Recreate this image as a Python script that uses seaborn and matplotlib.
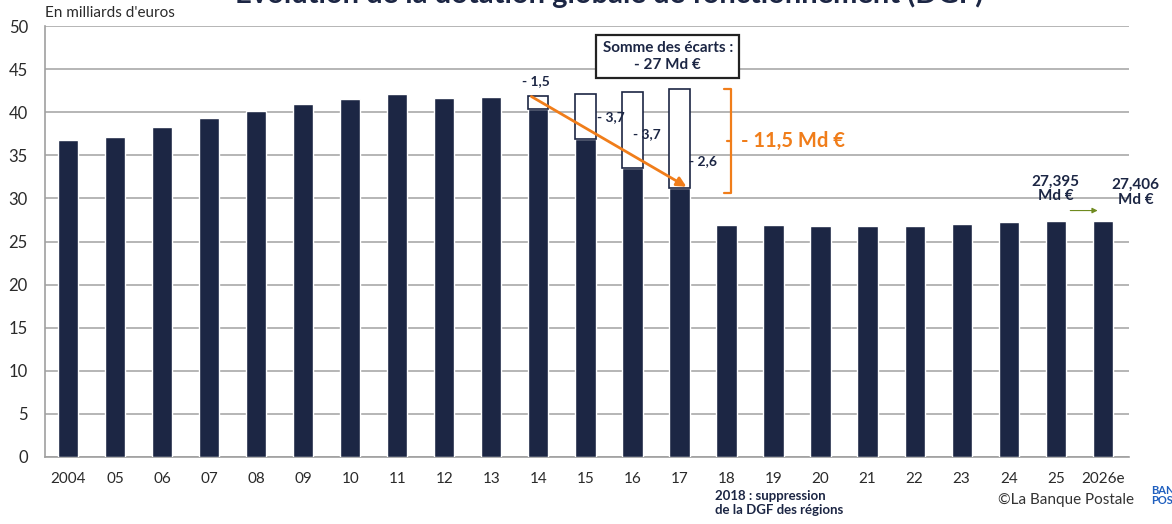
import numpy as np
import pandas as pd
import matplotlib.pyplot as plt
import seaborn as sns

# --- data (Md €) ---
years = ["2004", "05", "06", "07", "08", "09", "10", "11", "12", "13", "14", "15",
         "16", "17", "18", "19", "20", "21", "22", "23", "24", "25", "2026e"]
dgf = [36.8, 37.1, 38.3, 39.3, 40.1, 41.0, 41.5, 42.1, 41.7, 41.8, 40.4, 36.9,
       33.5, 31.2, 26.9, 26.95, 26.85, 26.8, 26.85, 27.05, 27.25, 27.395, 27.406]
cut_years = ["14", "15", "16", "17"]
cut_gaps = [1.5, 3.7, 3.7, 2.6]
cut_labels = ["- 1,5", "- 3,7", "- 3,7", "- 2,6"]

NAVY = "#1c2644"
ORANGE = "#f07d1a"
GRID = "#b5b5b5"

sns.set_theme(style="white")
plt.rcParams["font.family"] = ["Lato", "DejaVu Sans"]

df = pd.DataFrame({"year": years, "dgf": dgf})

fig = plt.figure(figsize=(11.72, 5.24), dpi=100)
ax = fig.add_axes([0.038, 0.128, 0.925, 0.822])

sns.barplot(data=df, x="year", y="dgf", color=NAVY, saturation=1, width=0.43, ax=ax, zorder=3)

# white boxes = cumulated cuts on top of the 2014-2017 bars
pos = [years.index(y) for y in cut_years]
bottoms = [dgf[i] for i in pos]
cum = np.cumsum(cut_gaps)
ax.bar(pos, cum, bottom=bottoms, width=0.43, color="white", edgecolor=NAVY,
       linewidth=1.2, zorder=3)

# labels of each cut
lab_xy = [(pos[0] - 0.05, 43.6), (pos[1] + 0.55, 39.5), (pos[2] + 0.3, 37.5), (pos[3] + 0.5, 34.4)]
for (x, y), t in zip(lab_xy, cut_labels):
    ax.text(x, y, t, ha="center", va="center", fontsize=10, fontweight="bold", color=NAVY, zorder=5)

# orange arrow across the cuts
ax.annotate("", xy=(pos[3] + 0.2, 31.2), xytext=(pos[0] - 0.2, 42.0),
            arrowprops=dict(arrowstyle="-|>", color=ORANGE, lw=2, mutation_scale=14), zorder=6)

# orange bracket
bx = pos[3] + 1.1
top, bot = bottoms[3] + cum[3], bottoms[3] - 0.6
ax.plot([bx - 0.15, bx, bx, bx - 0.15], [top, top, bot, bot], color=ORANGE, lw=1.6, zorder=5)
ax.plot([bx, bx - 0.1], [(top + bot) / 2, (top + bot) / 2], color=ORANGE, lw=1.6, zorder=5)
ax.text(bx + 0.2, (top + bot) / 2, "- 11,5 Md €", ha="left", va="center", fontsize=14.5,
        fontweight="bold", color=ORANGE, zorder=5)

# summary box
ax.text(12.75, 46.5, "Somme des écarts :\n- 27 Md €", ha="center", va="center", fontsize=11,
        fontweight="bold", color=NAVY, linespacing=1.25, zorder=6,
        bbox=dict(boxstyle="square,pad=0.4", fc="white", ec="#222222", lw=1.6))

# last two values
ax.text(21, 31.1, "27,395\nMd €", ha="center", va="center", fontsize=11, fontweight="bold",
        color=NAVY, linespacing=1.05)
ax.text(22.7, 30.7, "27,406\nMd €", ha="center", va="center", fontsize=11, fontweight="bold",
        color=NAVY, linespacing=1.05, clip_on=False)
ax.annotate("", xy=(21.95, 28.6), xytext=(21.25, 28.6),
            arrowprops=dict(arrowstyle="-|>", color="#6f8a1f", lw=0.8, mutation_scale=8))

# axes styling
ax.set_ylim(0, 50)
ax.set_xlim(-0.5, 22.55)
ax.set_yticks(range(0, 51, 5))
ax.yaxis.grid(True, color=GRID, lw=1.4)
ax.set_axisbelow(True)
ax.set_xlabel("")
ax.set_ylabel("")
for s in ["top", "right"]:
    ax.spines[s].set_visible(False)
for s in ["left", "bottom"]:
    ax.spines[s].set_color("#a0a0a0")
    ax.spines[s].set_linewidth(1.2)
ax.tick_params(axis="y", labelsize=12, colors="#2a2a2a", pad=12, length=0)
ax.tick_params(axis="x", labelsize=11, colors="#2a2a2a", pad=11, length=0)

# texts around the chart
fig.text(0.038, 0.975, "En milliards d'euros", ha="left", va="center", fontsize=11, color="#2a2a2a")
fig.text(0.52, 1.016, "Évolution de la dotation globale de fonctionnement (DGF)", ha="center",
         va="center", fontsize=21, fontweight="bold", color=NAVY)
fig.text(0.61, 0.040, "2018 : suppression\nde la DGF des régions", ha="left", va="center",
         fontsize=9.5, fontweight="bold", color=NAVY, linespacing=1.2)
fig.text(0.968, 0.045, "©La Banque Postale", ha="right", va="center", fontsize=11, color="#333333")
fig.text(0.982, 0.055, "BANQUE\nPOSTALE", ha="left", va="center", fontsize=8,
         fontweight="bold", color="#1f5fbf", linespacing=1.0)

fig.savefig("out.png", dpi=100)
